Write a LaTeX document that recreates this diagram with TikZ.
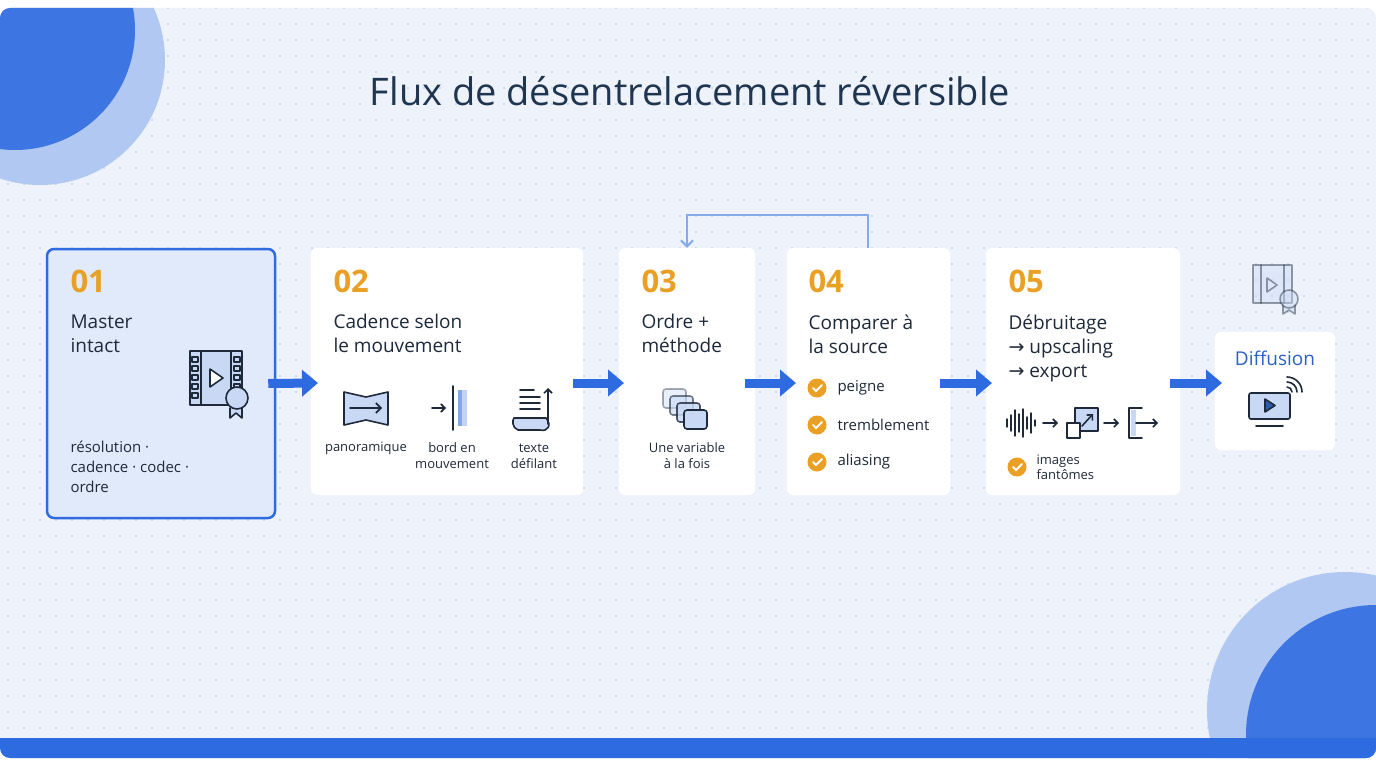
\documentclass[tikz,border=0pt]{standalone}
\usepackage{fontspec}
\setmainfont{Open Sans}
\newfontfamily\dv{DejaVu Sans}
\usetikzlibrary{arrows.meta,calc}
\definecolor{bg}{HTML}{EEF3FB}
\definecolor{navy}{HTML}{1F3550}
\definecolor{blu}{HTML}{2F6BE0}
\definecolor{lblu}{HTML}{8FB2EC}
\definecolor{org}{HTML}{E9A024}
\definecolor{ink}{HTML}{1E2A3A}
\definecolor{ifill}{HTML}{C9D9F5}
\tikzset{
 card/.style={draw=none,fill=white,rounded corners=6pt},
 num/.style={anchor=north west,text=org,font=\fontsize{31}{31}\selectfont\bfseries},
 ttl/.style={anchor=north west,text=ink,align=left,font=\fontsize{19}{24}\selectfont},
 lab/.style={text=ink,align=center,font=\fontsize{13}{16}\selectfont},
 flow/.style={blu,line width=9pt,-{Triangle[length=16pt,width=26pt]}},
 ic/.style={draw=ink,line width=1.6pt,line join=round,line cap=round},
 chk/.style={circle,fill=org,minimum size=19pt,inner sep=0pt},
}
\newcommand{\tick}[1]{\node[chk] at (#1) {};\draw[white,line width=1.8pt,line cap=round] ($(#1)+(-4,0)$)--++(3,3)--++(6,-6);}
\newcommand{\ar}{{\dv →}}
\begin{document}
\begin{tikzpicture}[x=1pt,y=-1pt]
\useasboundingbox (0,0) rectangle (1376,768);
\begin{scope}
\clip[rounded corners=10pt] (0,8) rectangle (1376,758);
\fill[bg] (0,0) rectangle (1376,768);
\foreach \i in {0,...,85}{\foreach \j in {0,...,47}{\fill[lblu!80] (8+16*\i,8+16*\j) circle (0.8);}}
\fill[lblu!70] (40,60) circle (125);
\fill[blu!85!lblu] (15,30) circle (120);
\fill[lblu!70] (1345,710) circle (138);
\fill[blu!85!lblu] (1376,735) circle (130);
\fill[blu] (0,738) rectangle (1376,768);
\end{scope}
\node[text=navy,font=\fontsize{38}{38}\selectfont] (title) at (690,91) {Flux de désentrelacement réversible};
% cards
\node[draw=blu,line width=2.5pt,fill=ifill!55,rounded corners=7pt,minimum width=228pt,minimum height=269pt,inner sep=0pt] (c1) at (161,383.5) {};
\node[card,minimum width=272pt,minimum height=247pt] (c2) at (447,371.5) {};
\node[card,minimum width=136pt,minimum height=247pt] (c3) at (687,371.5) {};
\node[card,minimum width=163pt,minimum height=247pt] (c4) at (868.5,371.5) {};
\node[card,minimum width=194pt,minimum height=247pt] (c5) at (1083,371.5) {};
\node[card,minimum width=120pt,minimum height=118pt] (c6) at (1275,391) {};
% texts
\node[num] at (67,266) {01}; \node[ttl] at (67,311) {Master\\intact};
\node[anchor=north west,text=ink,align=left,font=\fontsize{15}{20}\selectfont] at (67,437) {résolution ·\\cadence · codec ·\\ordre};
\node[num] at (330,266) {02}; \node[ttl] at (330,311) {Cadence selon\\le mouvement};
\node[num] at (638,266) {03}; \node[ttl] at (638,311) {Ordre +\\méthode};
\node[num] at (805,266) {04}; \node[ttl] at (805,311) {Comparer à\\la source};
\node[num] at (1005,266) {05}; \node[ttl] at (1005,311) {Débruitage\\\ar{} upscaling\\\ar{} export};
\node[text=blu!80!navy,font=\fontsize{19}{19}\selectfont] at (1275,358) {Diffusion};
\node[lab] at (366,448) {panoramique};
\node[lab] at (452,456) {bord en\\mouvement};
\node[lab] at (534,456) {texte\\défilant};
\node[lab] at (687,456) {Une variable\\à la fois};
\foreach \y/\t in {388/peigne,425/tremblement,462/aliasing}{\tick{817,\y}\node[anchor=west,text=ink,font=\fontsize{15}{15}\selectfont] at (834,\y) {\t};}
\tick{1017,467}
\node[anchor=west,text=ink,align=left,font=\fontsize{13}{15}\selectfont] at (1033,467) {images\\fantômes};
% flow arrows
\draw[flow] (c1.east)++(-8,0) -- (318,383);
\draw[flow] (c2.east |- 0,383)++(-10,0) -- (624,383);
\draw[flow] (c3.east |- 0,383)++(-10,0) -- (796,383);
\draw[flow] (c4.east |- 0,383)++(-10,0) -- (992,383);
\draw[flow] (c5.east |- 0,383)++(-10,0) -- (1222,383);
% feedback
\coordinate (f1) at (868,215); \coordinate (f2) at (687,215);
\draw[lblu!90!blu,line width=2pt,-{Straight Barb[length=6pt]}] (c4.north -| f1) -- (f1) -- (f2) -- (c3.north);
% icon 01 film + badge
\draw[ic,fill=ifill] (190,351) rectangle (242,405);
\foreach \y in {357,366,375,384,393}{\draw[ic,line width=1.2pt] (192,\y) rectangle (198,\y+5); \draw[ic,line width=1.2pt] (234,\y) rectangle (240,\y+5);}
\draw[ic] (201,351)--(201,405) (231,351)--(231,405);
\draw[ic,fill=white] (210,369)--(210,387)--(223,378)--cycle;
\draw[ic,fill=ifill] (230,408)--(230,418)--(236,413)--(242,418)--(242,408);
\draw[ic,fill=ifill] (237,398) circle (11);
% icon top-right (faded)
\begin{scope}[opacity=0.45]
\draw[ic,fill=ifill] (1253,265) rectangle (1292,303);
\draw[ic] (1261,265)--(1261,303) (1284,265)--(1284,303);
\draw[ic] (1267,278)--(1267,292)--(1277,285)--cycle;
\draw[ic,fill=ifill] (1283,305)--(1283,314)--(1289,310)--(1295,314)--(1295,305);
\draw[ic,fill=ifill] (1289,299) circle (9);
\end{scope}
% panoramique
\draw[ic,fill=ifill] (344,392)--(366,397)--(388,392)--(388,425)--(366,420)--(344,425)--cycle;
\draw[ic,-{Straight Barb[length=5pt]}] (350,408)--(382,408);
% bord en mouvement
\draw[ic,-{Straight Barb[length=4pt]}] (432,408)--(446,408);
\draw[ic] (453,386)--(453,430);
\fill[blu!60] (458,390) rectangle (462,426);
\fill[blu!30] (462,390) rectangle (467,426);
% texte defilant
\draw[ic,fill=ifill] (514,418)--(546,418) .. controls (552,425) and (548,432) .. (540,430)--(518,430) .. controls (512,428) and (512,420) .. (514,418);
\foreach \y/\w in {390/14,397/20,403/20,409/20}{\draw[ic] (520,\y)--++(\w,0);}
\draw[ic,-{Straight Barb[length=4pt]}] (548,424)--(548,388);
% layers
\foreach \k/\o in {0/0.4,1/0.6,2/0.8,3/1}{\draw[ic,opacity=\o,fill=ifill,rounded corners=3pt] (663+7*\k,389+7*\k) rectangle (686+7*\k,408+7*\k);}
% 05 icons
\foreach \x/\h in {1007/4,1011/8,1015/13,1019/9,1023/14,1027/6,1031/10,1035/3}{\draw[ic,line width=1.4pt] (\x,423-\h)--(\x,423+\h);}
\draw[ic,-{Straight Barb[length=4pt]}] (1043,423)--(1058,423);
\draw[ic,fill=ifill] (1075,408) rectangle (1098,431);
\draw[ic,fill=white] (1067,423) rectangle (1080,438);
\draw[ic,-{Straight Barb[length=4pt]}] (1082,426)--(1093,414);
\draw[ic,-{Straight Barb[length=4pt]}] (1104,423)--(1119,423);
\draw[ic] (1142,408)--(1129,408)--(1129,438)--(1142,438);
\fill[ifill] (1131,410) rectangle (1136,436);
\draw[ic,-{Straight Barb[length=4pt]}] (1136,423)--(1158,423);
% diffusion icon
\draw[ic,fill=ifill,rounded corners=2pt] (1249,393) rectangle (1290,419);
\draw[ic] (1256,426)--(1283,426);
\draw[ic,fill=blu!70!navy] (1265,399)--(1265,412)--(1275,405.5)--cycle;
\foreach \r in {5,10,15}{\draw[ic] (1287,392-\r) arc (-90:0:\r);}
\end{tikzpicture}
\end{document}
